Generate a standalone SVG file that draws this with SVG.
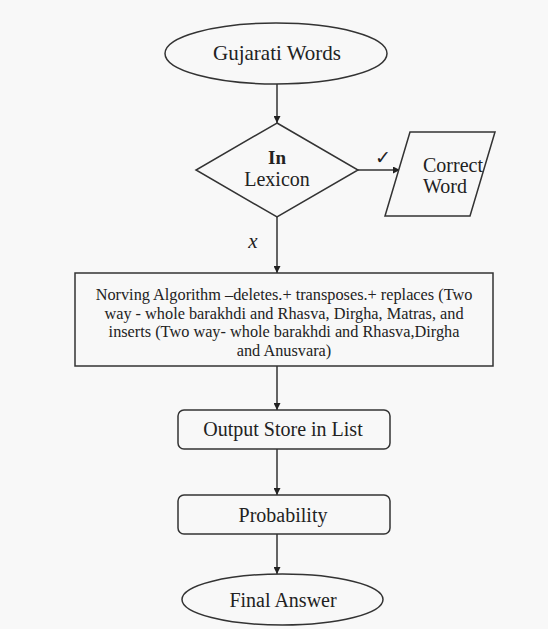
<svg xmlns="http://www.w3.org/2000/svg" width="548" height="629" viewBox="0 0 548 629">
<style>
.shape{fill:#f8f8f8;stroke:#333;stroke-width:1.5}
.t{font-family:"Liberation Serif","Times New Roman",serif;fill:#222;text-anchor:middle}
.s{text-anchor:start}
.c{stroke:#333;stroke-width:1.5;fill:none;marker-end:url(#ah)}
</style>
<defs>
<marker id="ah" viewBox="0 0 10 10" refX="10" refY="5" markerWidth="7" markerHeight="7" markerUnits="userSpaceOnUse" orient="auto">
<path d="M0,0 L10,5 L0,10 z" fill="#222"/>
</marker>
</defs>
<rect x="0" y="0" width="548" height="629" fill="#f8f8f8"/>
<g id="connectors">
<line class="c" x1="277" y1="84" x2="277" y2="123"/>
<line class="c" x1="358" y1="170" x2="400" y2="170"/>
<line class="c" x1="277" y1="217" x2="277" y2="273"/>
<line class="c" x1="277" y1="366" x2="277" y2="410"/>
<line class="c" x1="277" y1="449" x2="277" y2="495"/>
<line class="c" x1="277" y1="534" x2="277" y2="574"/>
<text x="383" y="164" font-family="DejaVu Sans, sans-serif" font-size="19" fill="#222" text-anchor="middle">✓</text>
<text x="253" y="248" class="t" font-size="21" font-style="italic">x</text>
</g>
<g id="start">
<ellipse class="shape" cx="276" cy="53.5" rx="111" ry="30.5"/>
<text class="t" x="277" y="60" font-size="21">Gujarati Words</text>
</g>
<g id="decision">
<polygon class="shape" points="277,123 358,170 277,217 196,170"/>
<text class="t" x="277" y="164" font-size="19" font-weight="bold">In</text>
<text class="t" x="277" y="186" font-size="20">Lexicon</text>
</g>
<g id="correct">
<polygon class="shape" points="410,132 495,132 470,216 385,216"/>
<text class="t s" x="423" y="172" font-size="20">Correct</text>
<text class="t s" x="423" y="193" font-size="20">Word</text>
</g>
<g id="norving">
<rect class="shape" x="75" y="273" width="418" height="93"/>
<text class="t" x="284" y="300" font-size="16.3">Norving Algorithm –deletes.+ transposes.+ replaces (Two</text>
<text class="t" x="284" y="318.5" font-size="16.3">way - whole barakhdi and Rhasva, Dirgha, Matras, and</text>
<text class="t" x="284" y="337" font-size="16.3">inserts (Two way- whole barakhdi and Rhasva,Dirgha</text>
<text class="t" x="284" y="355.5" font-size="16.3">and Anusvara)</text>
</g>
<g id="output">
<rect class="shape" x="178" y="410" width="212" height="39" rx="6"/>
<text class="t" x="283" y="436" font-size="20">Output Store in List</text>
</g>
<g id="probability">
<rect class="shape" x="178" y="495" width="212" height="39" rx="6"/>
<text class="t" x="283" y="522" font-size="20">Probability</text>
</g>
<g id="final">
<ellipse class="shape" cx="282.5" cy="599.5" rx="100.5" ry="25.5"/>
<text class="t" x="283" y="607" font-size="20">Final Answer</text>
</g>
</svg>
